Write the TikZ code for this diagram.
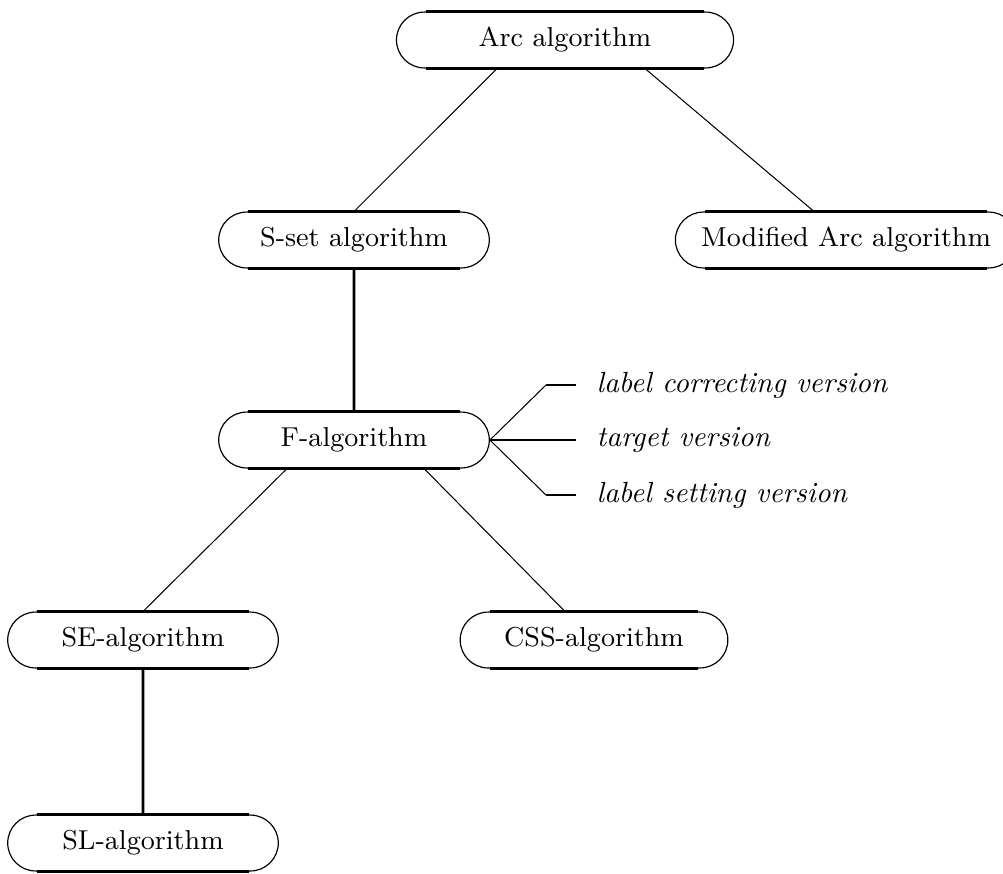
\documentclass[tikz,border=0pt]{standalone}
\usetikzlibrary{shapes.misc,calc}
\begin{document}
\begin{tikzpicture}[x=0.34pt,y=-0.34pt,
  alg/.style={rounded rectangle, draw, line width=0.4pt, minimum height=19pt, minimum width=92pt, inner sep=0pt, font=\fontsize{9.3}{11}\selectfont},
  rim/.style={line width=0.9pt},
  diag/.style={line width=0.35pt},
  vert/.style={line width=0.9pt},
  lab/.style={anchor=west, inner sep=0pt, font=\fontsize{9.9}{12}\selectfont\itshape}]
\useasboundingbox (0,0) rectangle (1003,873);
\node[alg, minimum width=114.6pt] (arc) at (565,40) {Arc algorithm};
\node[alg] (sset) at (354,240) {S-set algorithm};
\node[alg, minimum width=116pt] (mod) at (846,240) {Modified Arc algorithm};
\node[alg] (f) at (354,440) {F-algorithm};
\node[alg] (se) at (143,640) {SE-algorithm};
\node[alg, minimum width=91pt] (css) at (594,640) {CSS-algorithm};
\node[alg] (sl) at (143,843) {SL-algorithm};
\foreach \n in {arc,sset,mod,f,se,css,sl}{
  \draw[rim] ($(\n.west |- \n.north)+(30,0)$) -- ($(\n.east |- \n.north)+(-30,0)$);
  \draw[rim] ($(\n.west |- \n.south)+(30,0)$) -- ($(\n.east |- \n.south)+(-30,0)$);
}
\draw[diag] ($(arc.south)+(-68,0)$) -- (sset.north);
\draw[diag] ($(arc.south)+(80,0)$) -- ($(mod.north)+(-32,0)$);
\draw[vert] (sset) -- (f);
\draw[diag] ($(f.south)+(-67,0)$) -- (se.north);
\draw[diag] ($(f.south)+(70,0)$) -- ($(css.north)+(-29,0)$);
\draw[vert] (se) -- (sl);
\node[lab] (l1) at (596,385) {label correcting version};
\node[lab] (l2) at (596,440) {target version};
\node[lab] (l3) at (596,495) {label setting version};
\coordinate (b1) at (546,385);
\coordinate (b3) at (546,495);
\draw[diag] (f.east) -- (b1);
\draw[vert] (b1) -- ($(l1.west)+(-20,0)$);
\draw[vert] (f.east) -- ($(l2.west)+(-20,0)$);
\draw[diag] (f.east) -- (b3);
\draw[vert] (b3) -- ($(l3.west)+(-20,0)$);
\end{tikzpicture}
\end{document}
